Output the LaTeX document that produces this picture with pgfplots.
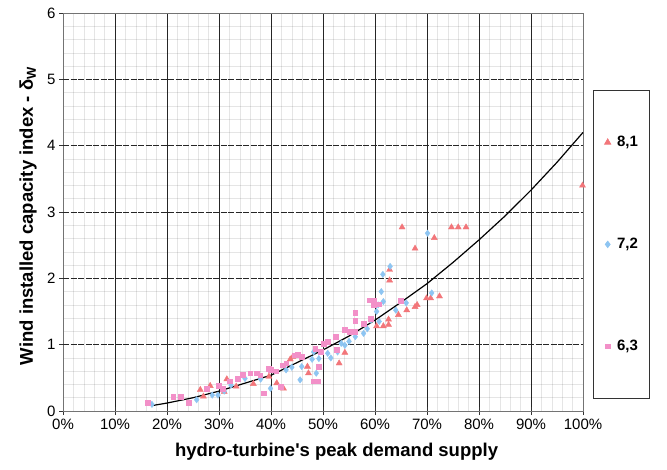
\documentclass[border=0pt]{standalone}
\usepackage{fontspec}
\setmainfont{Liberation Sans}
\usepackage{pgfplots}
\pgfplotsset{compat=1.18}
\definecolor{tri}{HTML}{F2767A}
\definecolor{dia}{HTML}{8EC5F2}
\definecolor{sqr}{HTML}{F290C8}

\begin{document}
\begin{tikzpicture}
\begin{axis}[
    scale only axis,
    width=520pt, height=398pt,
    xmin=0, xmax=100, ymin=0, ymax=6,
    xtick={0,10,...,100},
    xticklabels={0\%,10\%,20\%,30\%,40\%,50\%,60\%,70\%,80\%,90\%,100\%},
    ytick={0,1,...,6},
    minor x tick num=4, minor y tick num=4,
    grid=both, ymajorgrids=false,
    minor grid style={black, opacity=0.1, line width=0.6pt},
    major grid style={black!85, line width=1pt},
    extra y ticks={1,2,3,4,5},
    extra y tick labels={},
    extra y tick style={ymajorgrids=true, major tick length=0pt,
        major grid style={black!85, line width=1pt, dash pattern=on 6pt off 1.5pt}},
    axis line style={black!55, line width=0.8pt},
    tick pos=left, tick align=center,
    major tick length=8pt, minor tick length=0pt,
    tick style={black!80, line width=0.8pt},
    tick label style={font=\fontsize{15}{17}\selectfont},
    /pgf/number format/assume math mode=true,
    xlabel={\textbf{hydro-turbine\textquotesingle s peak demand supply}},
    ylabel={\textbf{Wind installed capacity index - δ\textsubscript{W}}},
    label style={font=\fontsize{18.5}{21}\selectfont},
    xlabel style={at={(axis description cs:0.526,-0.103)}, anchor=center},
    ylabel style={at={(axis description cs:-0.067,0.49)}, anchor=center},
    legend style={at={(axis description cs:1.019,0.8065)}, anchor=north west,
        draw=black!80, line width=0.8pt, row sep=86pt, inner ysep=44pt, inner xsep=9pt,
        font=\bfseries\fontsize{15}{17}\selectfont},
    legend image code/.code={\path (-5pt,0pt) (7pt,0pt); \draw[#1] plot coordinates {(0pt,0pt)};},
    legend cell align=left,
    clip=false,
]
\addplot[only marks, mark=triangle*, mark size=3.5pt, color=tri] coordinates {
(65.2,2.77) (74.7,2.77) (76.0,2.77) (77.5,2.77) (71.4,2.61) (67.7,2.45)
(99.9,3.40) (62.8,2.13) (62.8,1.97) (69.9,1.70) (70.7,1.70) (72.4,1.73)
(68.1,1.60) (67.7,1.57) (66.1,1.52) (64.5,1.45) (62.6,1.38) (60.3,1.28)
(61.6,1.28) (62.6,1.30) (54.2,0.88) (53.1,0.72) (47.0,0.67) (47.2,0.57)
(43.7,0.78) (41.1,0.42) (39.6,0.52) (36.6,0.41) (33.3,0.37) (31.5,0.48)
(28.3,0.38) (31.0,0.29) (26.4,0.32) (27.0,0.22) (42.4,0.34) (44.2,0.82)
};
\addlegendentry{8,1}
\addplot[only marks, mark=diamond*, mark size=3.2pt, color=dia] coordinates {
(70.1,2.68) (62.9,2.18) (61.5,2.06) (61.2,1.80) (70.9,1.78) (66.0,1.63)
(61.6,1.65) (60.6,1.60) (60.3,1.50) (59.2,1.37) (64.0,1.52) (60.8,1.35)
(58.5,1.24) (57.8,1.17) (56.2,1.12) (54.2,0.99) (52.8,0.89) (50.9,0.87)
(48.2,0.89) (47.9,0.78) (49.2,0.79) (45.9,0.67) (48.7,0.57) (45.6,0.47)
(42.9,0.62) (39.9,0.34) (35.0,0.49) (32.3,0.39) (29.8,0.24) (28.7,0.24)
(25.7,0.17) (17.1,0.10) (53.5,1.02) (55.0,1.05) (51.5,0.80) (44.0,0.66)
(38.0,0.48) (31.0,0.30)
};
\addlegendentry{7,2}
\addplot[only marks, mark=square*, mark size=2.4pt, color=sqr] coordinates {
(59.0,1.67) (59.7,1.67) (59.7,1.60) (60.8,1.61) (65.0,1.66) (56.2,1.48)
(56.2,1.36) (57.8,1.32) (59.1,1.39) (54.2,1.22) (55.2,1.20) (56.2,1.20)
(52.5,1.12) (50.9,1.04) (50.2,1.02) (48.5,0.94) (49.5,0.89) (45.2,0.85)
(44.6,0.84) (45.9,0.82) (52.7,0.92) (49.2,0.67) (48.2,0.45) (48.9,0.45)
(41.9,0.37) (38.6,0.27) (39.6,0.64) (39.9,0.62) (36.0,0.57) (37.3,0.57)
(37.9,0.54) (33.6,0.49) (30.0,0.38) (30.7,0.34) (27.7,0.34) (24.2,0.13)
(22.7,0.22) (21.2,0.22) (16.3,0.12) (42.3,0.69) (42.9,0.72) (34.5,0.55)
(32.0,0.45) (41.0,0.60)
};
\addlegendentry{6,3}
\addplot[black, line width=1.2pt, forget plot] coordinates {
(17,0.08) (20,0.12) (25,0.20) (30,0.30) (35,0.42) (40,0.54) (45,0.73)
(50,0.92) (55,1.13) (60,1.37) (65,1.64) (70,1.92) (75,2.24) (80,2.58)
(85,2.94) (90,3.33) (95,3.75) (100,4.20)
};
\path (axis description cs:-0.1212,-0.1482) rectangle (axis description cs:1.1615,1.0327);
\end{axis}
\end{tikzpicture}
\end{document}
